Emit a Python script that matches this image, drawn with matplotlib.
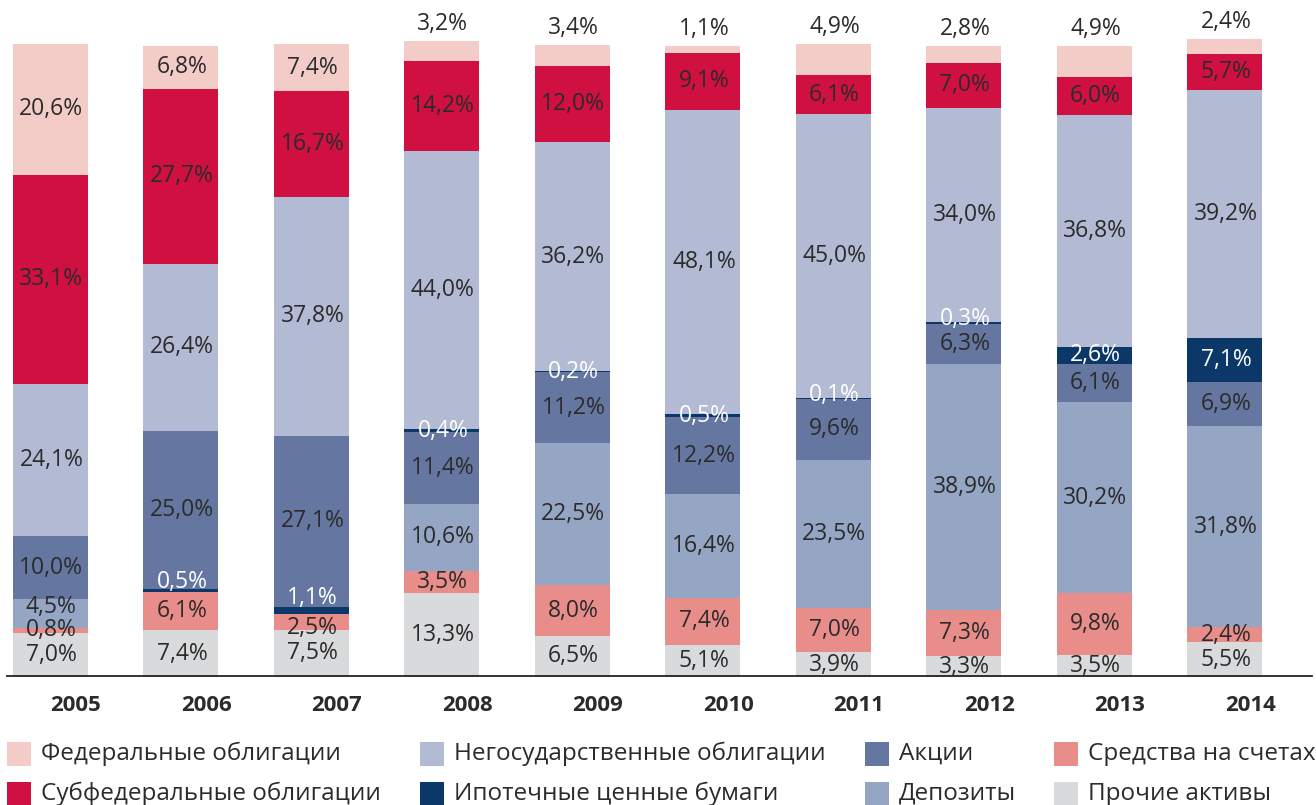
import matplotlib.pyplot as plt
from matplotlib.patches import Rectangle

plt.rcParams['font.family'] = ['Open Sans', 'DejaVu Sans']

years = ['2005', '2006', '2007', '2008', '2009', '2010', '2011', '2012', '2013', '2014']

# shares, %
other = [7.0, 7.4, 7.5, 13.3, 6.5, 5.1, 3.9, 3.3, 3.5, 5.5]
accounts = [0.8, 6.1, 2.5, 3.5, 8.0, 7.4, 7.0, 7.3, 9.8, 2.4]
deposits = [4.5, 0.0, 0.0, 10.6, 22.5, 16.4, 23.5, 38.9, 30.2, 31.8]
stocks = [10.0, 25.0, 27.1, 11.4, 11.2, 12.2, 9.6, 6.3, 6.1, 6.9]
mortgage = [0.0, 0.5, 1.1, 0.4, 0.2, 0.5, 0.1, 0.3, 2.6, 7.1]
corporate = [24.1, 26.4, 37.8, 44.0, 36.2, 48.1, 45.0, 34.0, 36.8, 39.2]
subfederal = [33.1, 27.7, 16.7, 14.2, 12.0, 9.1, 6.1, 7.0, 6.0, 5.7]
federal = [20.6, 6.8, 7.4, 3.2, 3.4, 1.1, 4.9, 2.8, 4.9, 2.4]

series = {
    'other': ('Прочие активы', other, '#D9DADC'),
    'accounts': ('Средства на счетах', accounts, '#E88D8A'),
    'deposits': ('Депозиты', deposits, '#95A5C4'),
    'stocks': ('Акции', stocks, '#6577A0'),
    'mortgage': ('Ипотечные ценные бумаги', mortgage, '#0B3868'),
    'corporate': ('Негосударственные облигации', corporate, '#B3BBD4'),
    'subfederal': ('Субфедеральные облигации', subfederal, '#D01040'),
    'federal': ('Федеральные облигации', federal, '#F4CCC7'),
}

order_main = ['other', 'accounts', 'deposits', 'stocks', 'mortgage', 'corporate', 'subfederal', 'federal']
order_early = ['other', 'accounts', 'deposits', 'mortgage', 'stocks', 'corporate', 'subfederal', 'federal']

# label nudges in pixels (year index, series) -> dy
nudge = {(0, 'deposits'): 6, (1, 'mortgage'): 8, (2, 'mortgage'): 12, (2, 'accounts'): -6,
         (6, 'mortgage'): 4, (7, 'mortgage'): 4}

W, H = 1316, 805
fig = plt.figure(figsize=(W / 100, H / 100), dpi=100)
bottom_px = 677
px_per_pct = 6.32
step = 130.5
x0 = 50
ax = fig.add_axes([0, (H - bottom_px) / H, 1, bottom_px / H])
ax.set_xlim(-x0 / step, (W - x0) / step)
ax.set_ylim(0, bottom_px / px_per_pct)
ax.axis('off')

dark = '#2B2B2B'
px_to_pt = 0.72
fs = 16.5

for i, yr in enumerate(years):
    order = order_early if i in (1, 2) else order_main
    base = 0
    for key in order:
        name, vals, col = series[key]
        v = vals[i]
        if v > 0:
            ax.bar(i, v, bottom=base, width=75 / step, color=col, linewidth=0)
            txt = f'{v:.1f}%'.replace('.', ',')
            white = key == 'mortgage'
            if key == 'federal' and i >= 3:
                ypos = base + v
                dy = 17
            else:
                ypos = base + v / 2
                dy = nudge.get((i, key), 0)
            ax.annotate(txt, (i, ypos), xytext=(1, dy * px_to_pt), textcoords='offset points',
                        ha='center', va='center', fontsize=fs,
                        color='white' if white else dark)
        base += v
    ax.annotate(yr, (i, 0), xytext=(26 * px_to_pt, -28 * px_to_pt), textcoords='offset points',
                ha='center', va='center', fontsize=16, fontweight='bold', color=dark)

fig.add_artist(plt.Line2D([7 / W, 1312 / W], [(H - 676) / H] * 2, color='#222222', lw=1.3))

legend_items = [
    ('federal', 7, 754), ('subfederal', 7, 794),
    ('corporate', 420, 754), ('mortgage', 420, 794),
    ('stocks', 865, 754), ('deposits', 865, 794),
    ('accounts', 1054, 754), ('other', 1054, 794),
]
for key, lx, ly in legend_items:
    name, vals, col = series[key]
    fig.add_artist(Rectangle((lx / W, (H - ly - 12) / H), 24 / W, 24 / H,
                             transform=fig.transFigure, color=col, lw=0))
    fig.text((lx + 34) / W, (H - ly) / H, name, ha='left', va='center',
             fontsize=17.5, color=dark)

fig.savefig('out.png', dpi=100)
